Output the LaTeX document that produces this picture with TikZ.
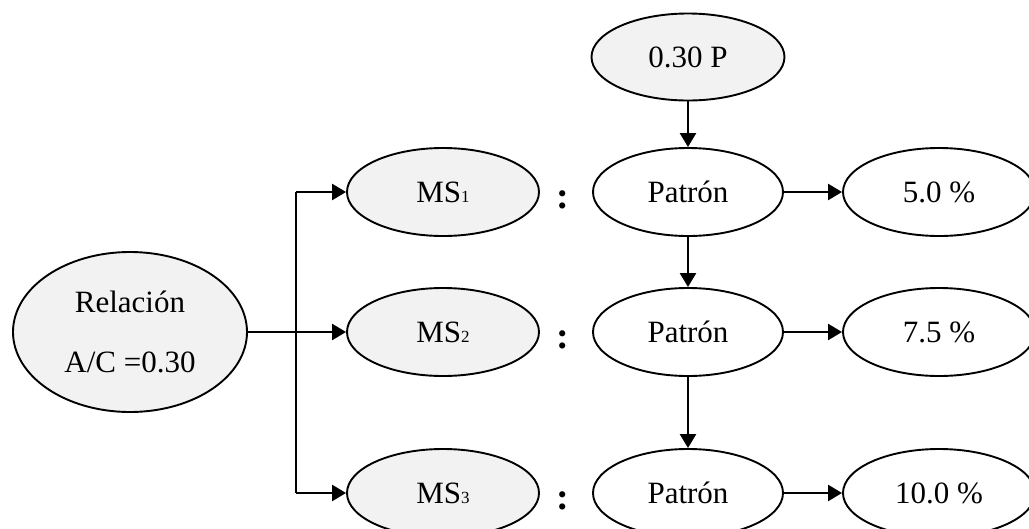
\documentclass[tikz,border=0pt]{standalone}
\usepackage{fontspec}
\setmainfont{Liberation Serif}
\usetikzlibrary{shapes.geometric,arrows.meta}
\definecolor{boxgray}{HTML}{F2F2F2}
\newcommand{\subd}[1]{{\fontsize{17}{17}\selectfont #1}}
\begin{document}
\begin{tikzpicture}[x=1pt,y=-1pt,
  every node/.style={font=\fontsize{31}{37}\selectfont},
  oval/.style={ellipse,draw,line width=1.9pt,inner sep=0pt,minimum width=192pt,minimum height=88pt},
  grayoval/.style={oval,fill=boxgray},
  whiteoval/.style={oval,fill=white},
  conn/.style={line width=2.5pt},
  arr/.style={conn,-{Triangle[length=14pt,width=16pt]}},
  colonmark/.style={inner sep=0pt,font=\fontsize{38}{40}\selectfont\bfseries}]
\useasboundingbox (0,0) rectangle (1029,528);
\clip (0,0) rectangle (1029,528);
% left node
\node[grayoval,minimum width=234pt,minimum height=160pt,align=center,font=\fontsize{31}{60}\selectfont] (rel) at (130,332) {Relación\\A/C =0.30};
% MS nodes
\node[grayoval] (ms1) at (443,192) {MS\subd{1}};
\node[grayoval] (ms2) at (443,332) {MS\subd{2}};
\node[grayoval] (ms3) at (443,493) {MS\subd{3}};
% colons
\node[colonmark] (c1) at (563,200) {:};
\node[colonmark] (c2) at (563,340) {:};
\node[colonmark] (c3) at (563,501) {:};
% top node
\node[grayoval,minimum width=193pt,minimum height=87pt] (p0) at (688,57) {0.30 P};
% Patron nodes
\node[whiteoval,minimum width=190pt] (pt1) at (688,192) {Patrón};
\node[whiteoval,minimum width=190pt] (pt2) at (688,332) {Patrón};
\node[whiteoval,minimum width=190pt] (pt3) at (688,493) {Patrón};
% percentages
\node[whiteoval] (r1) at (939,192) {5.0 \%};
\node[whiteoval] (r2) at (939,332) {7.5 \%};
\node[whiteoval] (r3) at (939,493) {10.0 \%};
% connectors
\coordinate (jt) at (296,192);
\coordinate (jb) at (296,493);
\draw[conn] (jt) -- (jb);
\draw[arr] (rel.east) -- (ms2.west);
\draw[arr] (jt) -- (ms1.west);
\draw[arr] (jb) -- (ms3.west);
\draw[arr] (p0.south) -- (pt1.north);
\draw[arr] (pt1.south) -- (pt2.north);
\draw[arr] (pt2.south) -- (pt3.north);
\draw[arr] (pt1.east) -- (r1.west);
\draw[arr] (pt2.east) -- (r2.west);
\draw[arr] (pt3.east) -- (r3.west);
\end{tikzpicture}
\end{document}
